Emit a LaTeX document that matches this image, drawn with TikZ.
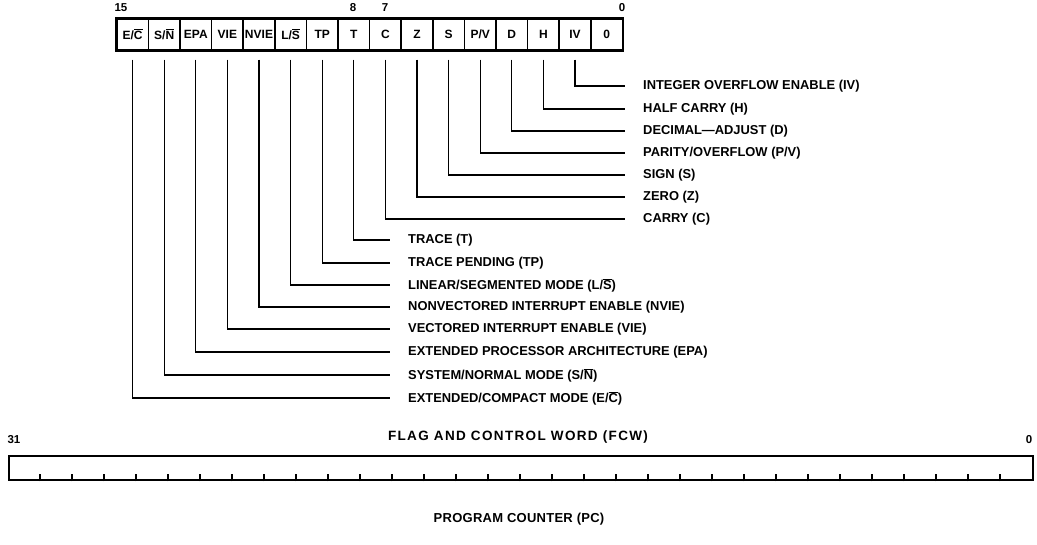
\documentclass[tikz,border=0pt]{standalone}
\usepackage{fontspec}
\setmainfont{Liberation Sans}
\newfontfamily\titlefont{Liberation Sans}[LetterSpace=10]
\newfontfamily\pctitlefont{Liberation Sans}[LetterSpace=2]
\newcommand\ovl[1]{\ensuremath{\overline{\hbox{#1}}}}
\begin{document}
\begin{tikzpicture}[x=1pt,y=-1pt,
  cell/.style={draw, line width=1.6pt, minimum width=31.6pt, minimum height=31pt, inner sep=0pt,
    font=\fontsize{12}{12}\selectfont\bfseries, anchor=north west},
  lbl/.style={anchor=west, inner sep=0pt, font=\fontsize{12.9}{13}\selectfont\bfseries},
  num/.style={inner sep=0pt, font=\fontsize{11.5}{12}\selectfont\bfseries},
  conn/.style={line width=1.3pt},
  frame/.style={line width=2.4pt},
  tick/.style={line width=1.2pt},
  ttl/.style={inner sep=0pt, font=\titlefont\fontsize{13.5}{14}\selectfont\bfseries},
  pcttl/.style={inner sep=0pt, font=\pctitlefont\fontsize{13}{14}\selectfont\bfseries}]
\useasboundingbox (0,0) rectangle (1037,545);
% FCW cells
\foreach \t [count=\i from 0] in {{E/\ovl{C}},{S/\ovl{N}},EPA,VIE,NVIE,{L/\ovl{S}},TP,T,C,Z,S,P/V,D,H,IV,0}
  \node[cell] (c\i) at ({116+31.6*\i},18) {\t};
\draw[frame] (c0.north west) rectangle (c15.south east);
% bit numbers
\node[num] (n15) at (121,8) {15};
\node[num] (n8) at (353,8) {8};
\node[num] (n7) at (385,8) {7};
\node[num] (n0) at (622,8) {0};
% right group labels
\foreach \i/\yy/\t in {14/86/{INTEGER OVERFLOW ENABLE (IV)},13/109/{HALF CARRY (H)},12/131/{DECIMAL---ADJUST (D)},11/153/{PARITY/OVERFLOW (P/V)},10/175/{SIGN (S)},9/197/{ZERO (Z)},8/219/{CARRY (C)}}{
  \node[lbl] (l\i) at (643,\yy) {\t};
  \draw[conn] ([yshift=-9pt]c\i.south) |- ([xshift=-18pt]l\i.west);
}
% left group labels
\foreach \i/\yy/\t in {7/240/{TRACE (T)},6/263/{TRACE PENDING (TP)},5/285/{LINEAR/SEGMENTED MODE (L/\ovl{S})},4/307/{NONVECTORED INTERRUPT ENABLE (NVIE)},3/329/{VECTORED INTERRUPT ENABLE (VIE)},2/352/{EXTENDED PROCESSOR ARCHITECTURE (EPA)},1/375/{SYSTEM/NORMAL MODE (S/\ovl{N})},0/398/{EXTENDED/COMPACT MODE (E/\ovl{C})}}{
  \node[lbl] (l\i) at (408,\yy) {\t};
  \draw[conn] ([yshift=-9pt]c\i.south) |- ([xshift=-18pt]l\i.west);
}
\node[ttl] (fcw) at (518,437) {FLAG AND CONTROL WORD (FCW)};
% PC register
\node[draw, frame, minimum width=1024pt, minimum height=24pt, inner sep=0pt, anchor=north west] (pc) at (8,455) {};
\foreach \k in {1,...,31}
  \draw[tick] ([xshift=\k*32pt]pc.south west) -- ++(0,-7);
\node[num] (n31) at (14,440) {31};
\node[num] (np0) at (1029,440) {0};
\node[pcttl] (pct) at (519,519) {PROGRAM COUNTER (PC)};
\end{tikzpicture}
\end{document}
